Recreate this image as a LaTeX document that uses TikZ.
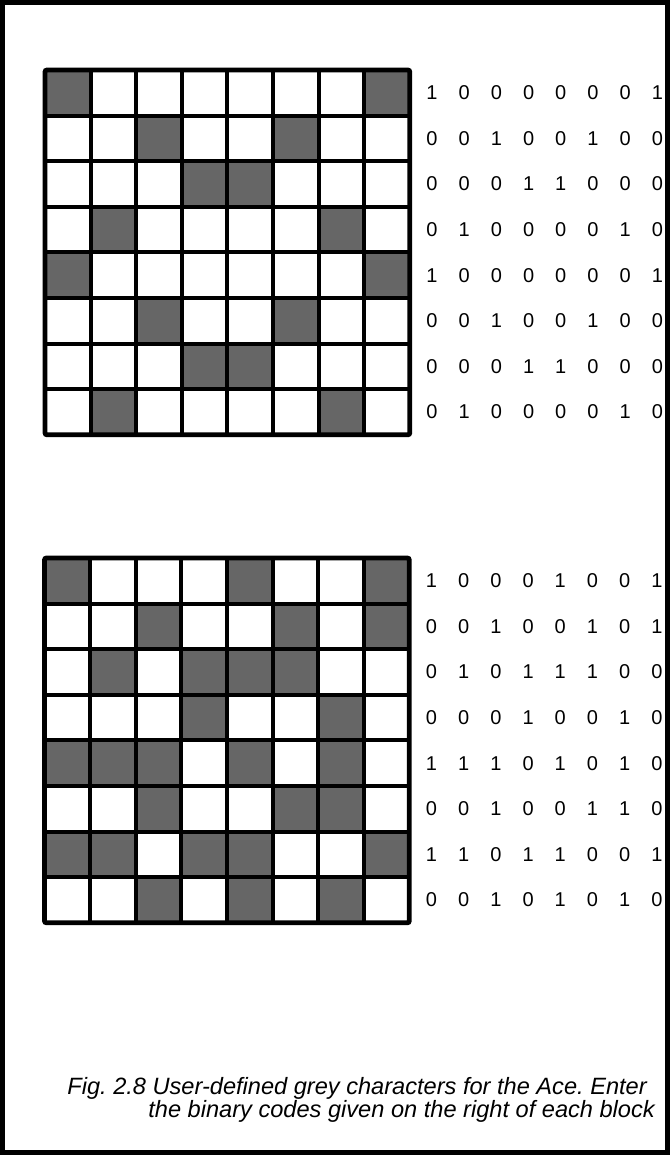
\documentclass[tikz,border=0pt]{standalone}
\usepackage{fontspec}
\setmainfont{Liberation Sans}
\frenchspacing

\tikzset{every picture/.style={line width=0.75pt}}
\tikzset{
  cellline/.style={line width=4pt},
  blockframe/.style={line width=4.8pt, rounded corners=2pt},
  greycell/.style={fill=black!60},
  bitlabel/.style={inner sep=0pt, font=\fontsize{20}{24}\selectfont},
  captiontext/.style={anchor=base west, inner sep=0pt, font=\fontsize{23.6}{26}\selectfont\itshape},
  pageframe/.style={line width=5pt}
}

% #1,#2 top left corner, #3 name, #4 rows of bits
\newcommand\charblock[4]{%
  \begin{scope}[shift={(#1,#2)}]
    \foreach \row [count=\r] in {#4} {
      \foreach \b [count=\c] in \row {
        \ifnum\b=1 \fill[greycell] ({(\c-1)*45.6},{(\r-1)*45.6}) rectangle ++(45.6,45.6);\fi
        \node[bitlabel] (#3-\r-\c) at ({387+(\c-1)*32.2},{(\r-0.5)*45.6}) {\b};
      }
    }
    \foreach \i in {1,...,7} {
      \draw[cellline] ({\i*45.6},0) -- ({\i*45.6},364.8);
      \draw[cellline] (0,{\i*45.6}) -- (364.8,{\i*45.6});
    }
    \draw[blockframe] (0,0) rectangle (364.8,364.8);
  \end{scope}%
}

\begin{document}
\begin{tikzpicture}[x=1pt,y=1pt,yscale=-1,xscale=1]
\useasboundingbox (0,0) rectangle (670,1155);

%Page frame
\draw[pageframe] (2.5,2.5) rectangle (667.5,1152.5);

%Upper block
\charblock{45}{70}{upper}{{1,0,0,0,0,0,0,1},{0,0,1,0,0,1,0,0},{0,0,0,1,1,0,0,0},{0,1,0,0,0,0,1,0},
  {1,0,0,0,0,0,0,1},{0,0,1,0,0,1,0,0},{0,0,0,1,1,0,0,0},{0,1,0,0,0,0,1,0}}

%Lower block
\charblock{44.5}{558}{lower}{{1,0,0,0,1,0,0,1},{0,0,1,0,0,1,0,1},{0,1,0,1,1,1,0,0},{0,0,0,1,0,0,1,0},
  {1,1,1,0,1,0,1,0},{0,0,1,0,0,1,1,0},{1,1,0,1,1,0,0,1},{0,0,1,0,1,0,1,0}}

% Caption
\node[captiontext] (cap1) at (67,1094) {Fig. 2.8 User-defined grey characters for the Ace. Enter};
\node[captiontext] (cap2) at (148,1117) {the binary codes given on the right of each block};

\end{tikzpicture}
\end{document}
